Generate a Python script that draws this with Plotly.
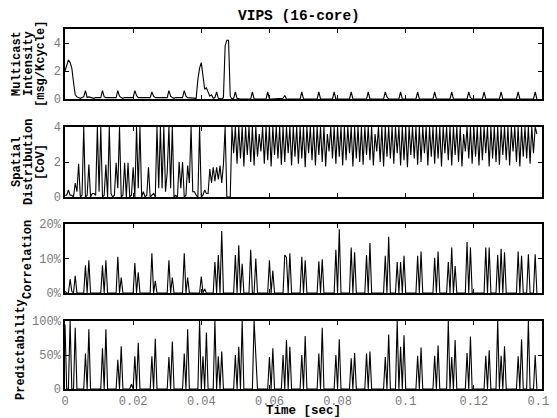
import plotly.graph_objects as go

# ---------------- data ----------------
DT = 0.0005          # sample period [sec]
N = 278              # samples 0 .. 0.1385 s
time_s = [round(k * DT, 4) for k in range(N)]

# Multicast intensity [msg/Kcycle], one value per sample
multicast = [
    2.0, 2.4, 2.8, 2.6, 2.2, 1.2, 0.3, 0.15, 0.1, 0.05,
    0.1, 0.15, 0.6, 0.1, 0.15, 0.1, 0.1, 0.05, 0.1, 0.1,
    0.05, 0.1, 0.6, 0.15, 0.1, 0.1, 0.05, 0.1, 0.1, 0.05,
    0.1, 0.6, 0.2, 0.1, 0.05, 0.1, 0.1, 0.05, 0.1, 0.1,
    0.1, 0.6, 0.25, 0.1, 0.1, 0.05, 0.1, 0.1, 0.05, 0.1,
    0.1, 0.5, 0.2, 0.1, 0.1, 0.05, 0.1, 0.05, 0.1, 0.1,
    0.1, 0.6, 0.2, 0.1, 0.05, 0.1, 0.1, 0.05, 0.1, 0.1,
    0.6, 0.2, 0.1, 0.1, 0.05, 0.1, 0.1, 0.05, 1.4, 2.2,
    2.6, 1.5, 0.7, 0.8, 0.5, 0.2, 0.3, 0.05, 0.1, 0.5,
    0.05, 0.0, 0.0, 0.1, 3.8, 4.2, 4.2, 0.2, 0.0, 0.05,
    0.5, 0.05, 0, 0, 0, 0, 0, 0, 0, 0,
    0.5, 0, 0, 0, 0, 0, 0, 0, 0, 0.5,
    0, 0, 0, 0, 0, 0, 0, 0, 0.05, 0.25,
    0, 0, 0, 0, 0, 0, 0, 0, 0, 0.5,
    0, 0, 0, 0, 0, 0, 0, 0, 0, 0.5,
    0, 0, 0, 0, 0, 0, 0, 0, 0.5, 0,
    0, 0, 0, 0, 0, 0, 0, 0, 0.5, 0,
    0, 0, 0, 0, 0, 0, 0, 0, 0.5, 0,
    0, 0, 0, 0, 0, 0, 0, 0, 0.5, 0.15,
    0, 0, 0, 0, 0, 0, 0, 0.5, 0, 0,
    0, 0, 0, 0, 0, 0, 0, 0.5, 0, 0,
    0, 0, 0, 0, 0, 0, 0, 0.5, 0, 0,
    0, 0, 0, 0, 0, 0, 0, 0.5, 0, 0,
    0, 0, 0, 0, 0, 0, 0, 0.5, 0.1, 0,
    0, 0, 0, 0, 0, 0, 0.5, 0, 0, 0,
    0, 0, 0, 0, 0, 0, 0.5, 0, 0, 0,
    0, 0, 0, 0, 0, 0, 0.5, 0, 0, 0,
    0, 0, 0, 0, 0, 0, 0.5, 0,
]

# Spatial distribution [CoV], one value per sample
spatial = [
    0.1, 0.1, 0.4, 0.1, 0.1, 0.0, 0.8, 0.3, 1.9, 0.0,
    0.1, 4.0, 0.0, 0.1, 1.85, 0.0, 0.2, 0.2, 0.1, 4.0,
    0.3, 4.0, 0.0, 0.1, 1.85, 0.0, 4.0, 0.2, 0.0, 0.1,
    1.95, 0.5, 4.0, 0.0, 0.1, 1.95, 0.0, 1.95, 0.0, 0.1,
    1.7, 0.0, 4.0, 0.5, 4.0, 0.0, 0.3, 0.0, 0.1, 1.7,
    0.0, 0.1, 0.2, 0.0, 4.0, 0.5, 4.0, 0.5, 4.0, 0.3,
    1.4, 4.0, 0.5, 4.0, 0.0, 0.1, 0.0, 2.0, 0.5, 2.0,
    0.0, 0.1, 1.8, 0.8, 4.0, 0.3, 0.3, 0.1, 0.0, 4.0,
    0.0, 0.1, 0.4, 0.2, 0.2, 1.6, 0.8, 1.7, 0.9, 1.7,
    1.0, 1.8, 0.8, 1.85, 4.0, 0.0, 0.0, 0.0,
    4, 2.5, 4, 1.9, 4, 2.2, 4, 1.75, 4, 2.4, 4, 2.0, 4, 1.8, 4, 2.3, 3.6, 2.6, 4, 1.9,
    4, 2.1, 4, 1.75, 4, 2.4, 4, 2.2, 4, 1.85, 4, 2.0, 4, 2.5, 4, 1.8, 4, 2.3, 4, 1.9,
    4, 2.2, 4, 1.7, 4, 2.5, 4, 2.1, 4, 1.8, 4, 2.4, 4, 2.0, 4, 1.75, 3.6, 2.6, 4, 2.2,
    4, 1.9, 4, 2.3, 4, 1.8, 4, 2.1, 4, 2.5, 4, 1.75, 4, 2.2, 4, 2.0, 4, 1.85, 4, 2.4,
    4, 2.1, 4, 1.8, 3.6, 2.6, 4, 2.0, 4, 1.75, 4, 2.3, 4, 2.2, 4, 1.9, 4, 2.5, 4, 1.8,
    4, 2.1, 4, 1.7, 4, 2.4, 4, 2.2, 4, 1.85, 4, 2.0, 4, 2.5, 4, 1.8, 4, 2.3, 4, 1.9,
    4, 2.2, 4, 1.75, 4, 2.5, 4, 2.1, 4, 1.8, 4, 2.4, 4, 2.0, 4, 1.75, 3.6, 2.6, 4, 2.2,
    4, 1.9, 4, 2.3, 4, 1.8, 4, 2.1, 4, 2.5, 4, 1.75, 4, 2.2, 4, 2.0, 4, 1.85, 4, 2.4,
    4, 2.1, 4, 1.8, 4, 2.6, 4, 2.0, 4, 1.75, 4, 2.3, 4, 2.2, 4, 1.9, 4, 2.5,
    4, 3.6,
]

# Correlation [%]: non-zero samples (time, value); all other samples are 0
corr_times = [0, 0.0015, 0.002, 0.003, 0.006, 0.007, 0.011, 0.012, 0.0155, 0.0165,
              0.0205, 0.0215, 0.0255, 0.0265, 0.0305, 0.0315, 0.035, 0.036, 0.04, 0.041,
              0.044, 0.045, 0.046, 0.05, 0.051, 0.052, 0.0545, 0.056, 0.06, 0.061,
              0.0645, 0.065, 0.066, 0.0695, 0.0705, 0.0745, 0.0755, 0.0795, 0.0805, 0.084,
              0.085, 0.0885, 0.0895, 0.094, 0.095, 0.0975, 0.0985, 0.0995, 0.1035, 0.1045,
              0.1085, 0.1095, 0.1125, 0.1135, 0.1145, 0.118, 0.119, 0.1235, 0.1245, 0.127,
              0.128, 0.129, 0.133, 0.134, 0.136, 0.138]
corr_vals = [0.5, 4, 0.5, 5, 8, 9.5, 8, 9.5, 10.5, 4.5,
             8.7, 6, 11.5, 3.5, 9.5, 4.5, 11.5, 4.5, 4.8, 1.2,
             9, 11, 18, 11, 13.8, 8.5, 12.5, 10, 9.5, 6.5,
             11, 10.3, 11.5, 10.5, 9.5, 9.2, 9.8, 12.5, 18.5, 13.2,
             11.8, 11, 14.5, 10.8, 16.3, 9, 9, 10.8, 10.8, 12,
             10.2, 12, 9, 13.2, 7.8, 14.8, 13.2, 13.2, 13.2, 11,
             12.8, 11.8, 12, 10.8, 11.2, 11.2]

# Predictability [%]: non-zero samples (time, value); all other samples are 0
pred_times = [0, 0.0015, 0.003, 0.006, 0.007, 0.011, 0.012, 0.0155, 0.0165, 0.0195,
              0.0205, 0.0215, 0.0255, 0.0265, 0.0305, 0.0315, 0.035, 0.036, 0.0395, 0.0405,
              0.0415, 0.044, 0.045, 0.046, 0.05, 0.051, 0.052, 0.0555, 0.056, 0.06,
              0.061, 0.064, 0.065, 0.066, 0.0695, 0.0705, 0.0745, 0.0755, 0.0795, 0.0805,
              0.084, 0.085, 0.0885, 0.0895, 0.094, 0.095, 0.0975, 0.0985, 0.0995, 0.1035,
              0.1045, 0.1085, 0.1095, 0.1125, 0.1135, 0.1145, 0.118, 0.119, 0.1235, 0.1245,
              0.127, 0.128, 0.129, 0.133, 0.134, 0.136, 0.138]
pred_vals = [95, 100, 90, 52, 88, 60, 88, 43, 63, 7,
             48, 68, 48, 74, 47, 70, 52, 88, 100, 48,
             83, 100, 48, 55, 50, 62, 100, 100, 45, 47,
             60, 50, 72, 62, 50, 78, 52, 90, 50, 73,
             45, 53, 52, 55, 47, 80, 100, 62, 79, 49,
             61, 49, 64, 100, 47, 72, 53, 77, 49, 57,
             100, 49, 63, 48, 73, 100, 50]

x_tick_vals = [0, 0.02, 0.04, 0.06, 0.08, 0.1, 0.12, 0.14]
x_tick_text = ["0", "0.02", "0.04", "0.06", "0.08", "0.1", "0.12", "0.14"]


def on_grid(times, vals):
    y = [0.0] * N
    for t, v in zip(times, vals):
        y[int(round(t / DT))] = v
    return y


correlation = on_grid(corr_times, corr_vals)
predictability = on_grid(pred_times, pred_vals)

# ---------------- figure ----------------
FONT = "Liberation Mono, Courier New, monospace"
fig = go.Figure()
series = [multicast, spatial, correlation, predictability]
for i, ys in enumerate(series):
    fig.add_trace(go.Scatter(
        x=time_s, y=ys, mode="lines",
        line=dict(color="black", width=1.1),
        xaxis="x" if i == 0 else f"x{i+1}",
        yaxis="y" if i == 0 else f"y{i+1}",
        showlegend=False, hoverinfo="skip"))

# screen layout (page has an 8px body margin)
OFF = 8
W, H = 557, 418
PL, PR, PT, PB = 65, 542, 29, 389          # plot area on screen
L, T = PL - OFF, PT - OFF
R = W - (PR - OFF)
B = H - (PB - OFF)
pw, ph = PR - PL, PB - PT


def dom(top, bot):
    return [(PB - bot) / ph, (PB - top) / ph]


domains = [dom(29, 99), dom(127, 197), dom(224, 293), dom(321, 389)]
y_specs = [
    dict(range=[0, 5], tickvals=[0, 2, 4], ticktext=["0", "2", "4"]),
    dict(range=[0, 4], tickvals=[0, 2, 4], ticktext=["0", "2", "4"]),
    dict(range=[0, 20], tickvals=[0, 10, 20], ticktext=["0%", "10%", "20%"]),
    dict(range=[0, 100], tickvals=[0, 50, 100], ticktext=["0", "50%", "100%"]),
]
tickfont = dict(family=FONT, size=12, color="#7a7a7a")
axis_common = dict(showline=True, linecolor="black", linewidth=1.5, mirror="ticks",
                   ticks="inside", ticklen=4, tickcolor="black", tickwidth=1,
                   showgrid=False, zeroline=False, tickfont=tickfont)

layout = {}
for i in range(4):
    xs = "xaxis" if i == 0 else f"xaxis{i+1}"
    ys = "yaxis" if i == 0 else f"yaxis{i+1}"
    layout[xs] = dict(axis_common, range=[0, 0.14], tickvals=x_tick_vals,
                      ticktext=x_tick_text, showticklabels=(i == 3),
                      anchor="y" if i == 0 else f"y{i+1}", domain=[0, 1])
    layout[ys] = dict(axis_common, domain=domains[i],
                      anchor="x" if i == 0 else f"x{i+1}", **y_specs[i])

fig.update_layout(**layout)


def px_x(px):
    return (px - PL) / pw


def px_y(py):
    return (PB - py) / ph


def ann(text, sx, sy, size=12, angle=0):
    return dict(text=f"<b>{text}</b>", x=px_x(sx), y=px_y(sy), xref="paper", yref="paper",
                showarrow=False, font=dict(family=FONT, size=size, color="black"),
                textangle=angle, xanchor="center", yanchor="middle")


annotations = [
    ann("VIPS (16-core)", 299, 16, size=14.5),
    ann("Time [sec]", 303, 411, size=12.5),
    ann("Multicast", 17, 64, angle=-90),
    ann("Intensity", 29, 64, angle=-90),
    ann("[msg/Kcycle]", 41, 64, angle=-90),
    ann("Spatial", 17, 162, angle=-90),
    ann("Distribution", 29, 162, angle=-90),
    ann("[CoV]", 41, 162, angle=-90),
    ann("Correlation", 28, 260, angle=-90),
    ann("Predictability", 21, 350, angle=-90),
]
fig.update_layout(
    width=W, height=H, margin=dict(l=L, r=R, t=T, b=B, autoexpand=False),
    paper_bgcolor="white", plot_bgcolor="white",
    annotations=annotations, font=dict(family=FONT),
)

fig.write_html("out.html")
